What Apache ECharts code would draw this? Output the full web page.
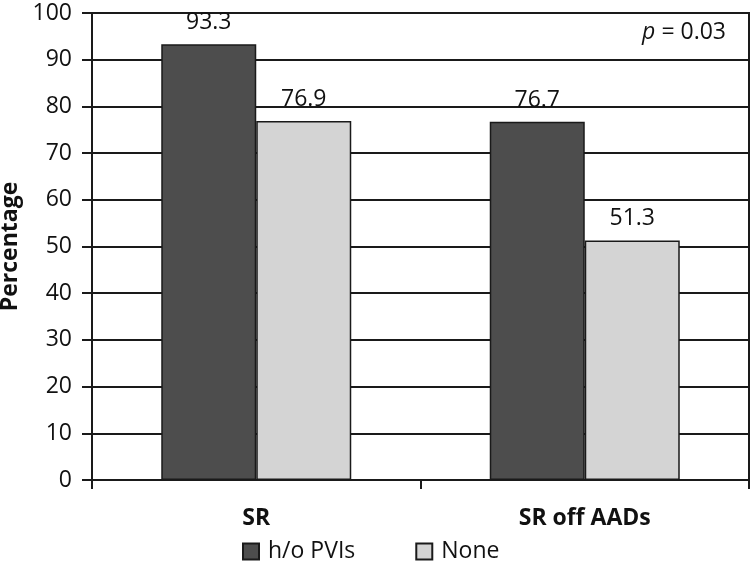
<!DOCTYPE html>
<html>
<head>
<meta charset="utf-8">
<script src="https://cdn.jsdelivr.net/npm/echarts@6/dist/echarts.min.js"></script>
<style>html,body{margin:0;padding:0;background:#fff}#c{width:750px;height:565px}</style>
</head>
<body>
<div id="c"></div>
<script>
var categories = ['SR', 'SR off AADs'];
var seriesNames = ['h/o PVIs', 'None'];
var hoPVIs = [93.3, 76.7];
var none = [76.9, 51.3];
var yTicks = [0, 10, 20, 30, 40, 50, 60, 70, 80, 90, 100];

var font = '"Open Sans", "Noto Sans", sans-serif';
var fs = 23;
var chart = echarts.init(document.getElementById('c'));
var labelOpt = {
  show: true, position: 'top', distance: 10,
  color: '#111', fontSize: fs, fontFamily: font,
  formatter: function (p) { return p.value.toFixed(1); }
};
chart.setOption({
  animation: false,
  textStyle: { fontFamily: font },
  grid: { left: 92, right: 1, top: 13, bottom: 85, containLabel: false, outerBoundsMode: 'none',
    show: true, borderColor: '#1a1a1a', borderWidth: 2 },
  legend: {
    data: seriesNames, bottom: 0, left: 237, padding: [0, 5, 2, 5], itemWidth: 16, itemHeight: 16, itemGap: 60,
    icon: 'rect',
    textStyle: { fontSize: fs, color: '#111', fontFamily: font, padding: [0, 0, 0, 4] }
  },
  xAxis: {
    type: 'category', data: categories,
    axisLine: { lineStyle: { color: '#1a1a1a', width: 2 } },
    axisTick: { show: true, length: 9, lineStyle: { color: '#1a1a1a', width: 2 } },
    axisLabel: { margin: 27, fontSize: fs, fontWeight: 'bold', color: '#111', fontFamily: font }
  },
  yAxis: {
    type: 'value', min: yTicks[0], max: yTicks[yTicks.length - 1], interval: 10,
    name: 'Percentage', nameLocation: 'middle', nameGap: 65,
    nameTextStyle: { fontSize: fs, fontWeight: 'bold', color: '#111', fontFamily: font },
    axisLine: { show: true, lineStyle: { color: '#1a1a1a', width: 2 } },
    axisTick: { show: true, length: 10, lineStyle: { color: '#1a1a1a', width: 2 } },
    axisLabel: { margin: 20, fontSize: fs, color: '#111', fontFamily: font },
    splitLine: { show: true, lineStyle: { color: '#1a1a1a', width: 2 } }
  },
  series: [
    { name: seriesNames[0], type: 'bar', data: hoPVIs, barWidth: 95, barGap: '0%',
      itemStyle: { color: '#4d4d4d', borderColor: '#1a1a1a', borderWidth: 1.5 }, label: labelOpt },
    { name: seriesNames[1], type: 'bar', data: none, barWidth: 95,
      itemStyle: { color: '#d4d4d4', borderColor: '#1a1a1a', borderWidth: 1.5 }, label: labelOpt }
  ],
  graphic: [{
    type: 'text', right: 24, top: 21,
    style: {
      text: '{i|p} = 0.03',
      rich: { i: { fontStyle: 'italic', fontSize: fs, fontFamily: font, fill: '#111' } },
      fontSize: fs, fontFamily: font, fill: '#111'
    }
  }]
});
</script>
</body>
</html>
